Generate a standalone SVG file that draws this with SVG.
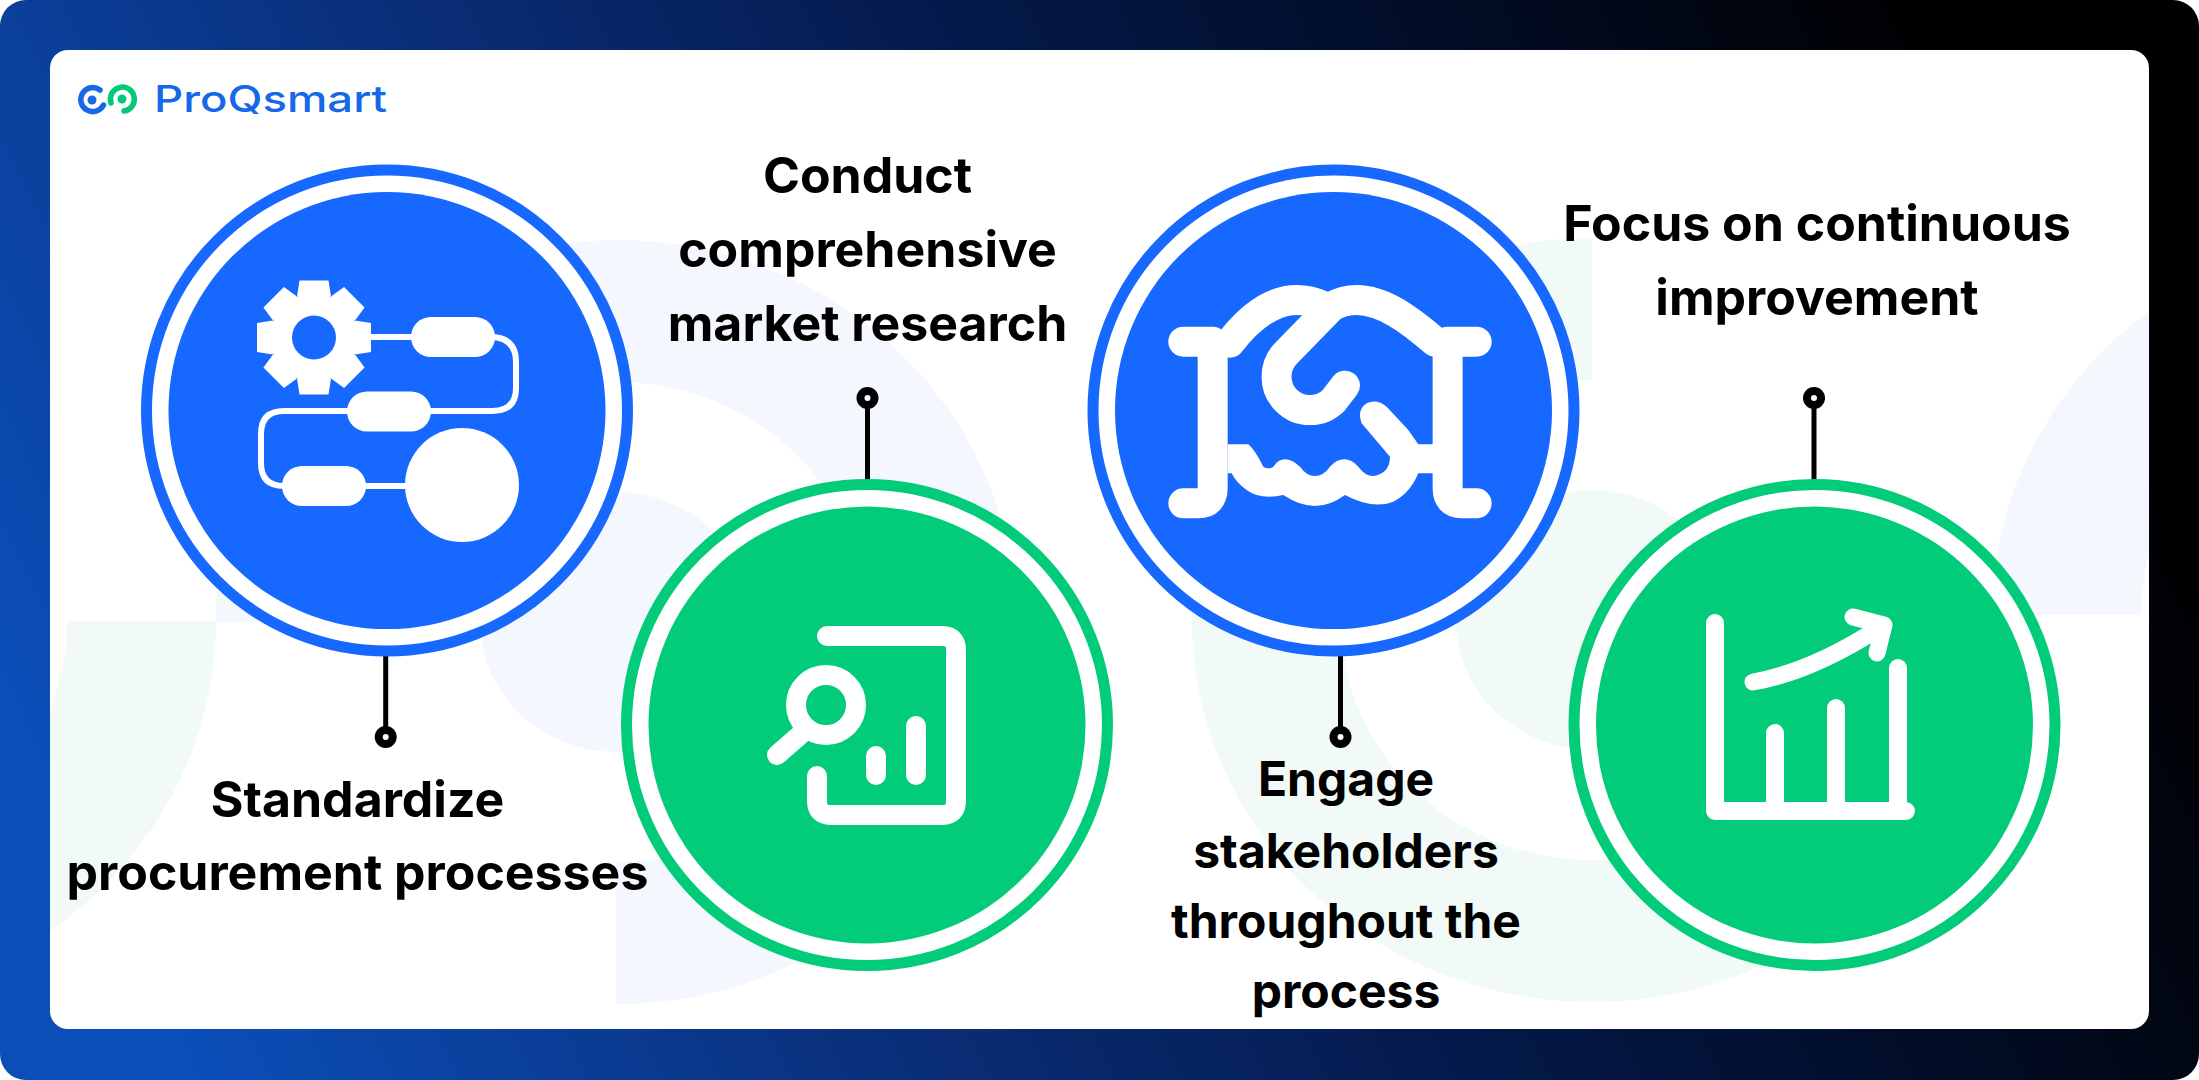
<svg xmlns="http://www.w3.org/2000/svg" width="2199" height="1080" viewBox="0 0 2199 1080">
<defs>
<linearGradient id="bg" x1="0" y1="0.62" x2="1" y2="0.38">
<stop offset="0" stop-color="#0b4eb8"/><stop offset="0.3" stop-color="#0a2f7a"/><stop offset="0.55" stop-color="#04194a"/><stop offset="0.8" stop-color="#010a1e"/><stop offset="0.97" stop-color="#000"/>
</linearGradient>
<clipPath id="card"><rect x="50" y="50" width="2099" height="979" rx="18"/></clipPath>
<path id="tooth" d="M-17,-41 L-14.5,-57 H14.5 L17,-41Z" fill="#fff"/>
</defs>
<style>
.lbl{font-family:"Inter","Liberation Sans",sans-serif;font-weight:700;font-size:50px;fill:#000;text-anchor:middle}
.lbs{font-size:48px}
.line{stroke:#000;stroke-width:5;fill:none}
.dot{fill:#000}.hole{fill:#fff}
.ring{fill:#fff;stroke-width:11}
.w{fill:none;stroke:#fff;stroke-linecap:round;stroke-linejoin:round}
.wf{fill:#fff}
.pb{fill:none;stroke:#f4f7fe;stroke-width:142}.pg{fill:none;stroke:#f1faf6;stroke-width:142}
</style>
<rect width="2199" height="1080" rx="26" fill="url(#bg)"/>
<rect x="50" y="50" width="2099" height="979" rx="18" fill="#fff"/>
<g id="watermark" clip-path="url(#card)">
<g transform="translate(616,622) scale(1.047,1)">
<path class="pb" d="M-311,0 A311,311 0 1 1 0,311"/>
<circle r="130" fill="#f4f7fe"/>
</g>
<g transform="translate(-184,621) scale(1.047,1)">
<path class="pg" d="M311,0 A311,311 0 0 1 0,311"/>
</g>
<g transform="translate(1592,620) scale(1.047,1)">
<path class="pg" d="M0,-311 A311,311 0 1 0 311,0"/>
<circle r="130" fill="#f1faf6"/>
</g>
<g transform="translate(2392,615) scale(1.047,1)">
<path class="pb" d="M-311,0 A311,311 0 0 1 0,-311"/>
</g>
</g>
<g id="logo">
<path d="M100,90 A12,12 0 1 0 103.5,105" fill="none" stroke="#1668e8" stroke-width="5.5" stroke-linecap="round"/>
<circle cx="92" cy="100" r="4.5" fill="#1668e8"/>
<path d="M111,103 A12,12 0 1 1 124,111" fill="none" stroke="#02c878" stroke-width="5.5" stroke-linecap="round"/>
<circle cx="122" cy="99" r="4.5" fill="#02c878"/>
<text x="154" y="112" font-family="Inter,'Liberation Sans',sans-serif" font-weight="500" font-size="37" fill="#1668e8" textLength="233" lengthAdjust="spacingAndGlyphs">ProQsmart</text>
</g>
<g id="connectors">
<line class="line" x1="385.7" y1="655" x2="385.7" y2="737"/><circle class="dot" cx="385.7" cy="737" r="11"/><circle class="hole" cx="385.7" cy="737" r="3"/>
<line class="line" x1="867.5" y1="398" x2="867.5" y2="482"/><circle class="dot" cx="867.5" cy="398" r="11"/><circle class="hole" cx="867.5" cy="398" r="3"/>
<line class="line" x1="1340.5" y1="655" x2="1340.5" y2="737"/><circle class="dot" cx="1340.5" cy="737" r="11"/><circle class="hole" cx="1340.5" cy="737" r="3"/>
<line class="line" x1="1814" y1="398" x2="1814" y2="482"/><circle class="dot" cx="1814" cy="398" r="11"/><circle class="hole" cx="1814" cy="398" r="3"/>
</g>
<g id="node1">
<circle class="ring" cx="387" cy="410.6" r="240.5" stroke="#1668ff"/>
<circle cx="387" cy="410.6" r="218.5" fill="#1668ff"/>
<g transform="translate(314,337.5)">
<use href="#tooth"/><use href="#tooth" transform="rotate(45)"/><use href="#tooth" transform="rotate(90)"/><use href="#tooth" transform="rotate(135)"/><use href="#tooth" transform="rotate(180)"/><use href="#tooth" transform="rotate(225)"/><use href="#tooth" transform="rotate(270)"/><use href="#tooth" transform="rotate(315)"/>
<circle r="44" fill="#fff"/>
<circle r="22" fill="#1668ff"/>
</g>
<path class="w" stroke-width="6" d="M370,337 H415 M490,337 Q516,337 516,362 V388 Q516,411 492,411 H284 Q261,411 261,434 V463 Q261,486 284,486 H295 M360,486 H410"/>
<rect class="wf" x="411" y="317" width="84" height="40" rx="20"/>
<rect class="wf" x="347" y="391.500" width="84" height="40" rx="20"/>
<rect class="wf" x="282" y="466" width="84" height="40" rx="20"/>
<circle class="wf" cx="462" cy="485" r="57"/>
</g>
<g id="node2">
<circle class="ring" cx="867" cy="725" r="240.5" stroke="#02cb79"/>
<circle cx="867" cy="725" r="218.500" fill="#02cb79"/>
<path class="w" stroke-width="20" d="M827,636 H942 Q956,636 956,650 V801 Q956,815 942,815 H831 Q817,815 817,801 V776 M876,756 V775 M916,726 V775 M777,755 L800,735"/>
<circle class="w" cx="826" cy="705" r="30" stroke-width="20"/>
</g>
<g id="node3">
<circle class="ring" cx="1333.500" cy="410.6" r="240.5" stroke="#1668ff"/>
<circle cx="1333.500" cy="410.6" r="218.5" fill="#1668ff"/>
<g transform="translate(1100,200) scale(0.3333)">
<path class="w" stroke-width="90" d="M250,425 H338 V865 Q338,910 295,910 H250 M1130,425 H1043 V865 Q1043,910 1085,910 H1130"/>
<path class="w" stroke-width="90" stroke-linecap="butt" d="M390,428 C450,350 520,300 590,300 Q630,300 670,318 M690,322 Q730,300 770,300 C850,300 930,360 1005,425"/>
<path class="w" stroke-width="90" d="M690,325 L559,459 A100,100 0 0 0 701,601 L735,557"/>
<path class="wf" d="M383,733 H445 Q465,750 490,800 Q505,810 520,800 Q535,778 555,778 Q575,778 600,800 Q620,828 645,828 Q670,828 690,800 Q710,778 733,778 Q755,778 775,800 Q795,828 820,828 Q870,820 870,770 L785,670 Q770,630 800,610 Q830,595 860,620 L925,690 L955,733 H1000 V820 H955 Q930,880 880,905 Q820,930 735,885 Q690,918 645,918 Q600,918 550,885 Q480,900 440,870 Q410,850 395,820 H383 Z"/>
</g>
</g>
<g id="node4">
<circle class="ring" cx="1814.500" cy="725" r="240.5" stroke="#02cb79"/>
<circle cx="1814.500" cy="725" r="218.5" fill="#02cb79"/>
<path class="w" stroke-width="18" d="M1715,623 V811 H1906 M1775,733 V811 M1836,708 V811 M1898,668 V811"/>
<path class="w" stroke-width="17" d="M1753,682 Q1810,672 1876,630 M1853,617 L1884,625 L1877,653"/>
</g>
<g id="labels">
<text class="lbl" x="357.500" y="817">Standardize</text>
<text class="lbl" x="357.500" y="890">procurement processes</text>
<text class="lbl" x="867.500" y="193">Conduct</text>
<text class="lbl" x="867.500" y="267">comprehensive</text>
<text class="lbl" x="867.500" y="341">market research</text>
<text class="lbl lbs" x="1346" y="796">Engage</text>
<text class="lbl lbs" x="1346" y="868">stakeholders</text>
<text class="lbl lbs" x="1346" y="938">throughout the</text>
<text class="lbl lbs" x="1346" y="1008">process</text>
<text class="lbl" x="1817" y="241">Focus on continuous</text>
<text class="lbl" x="1817" y="315">improvement</text>
</g>
</svg>
